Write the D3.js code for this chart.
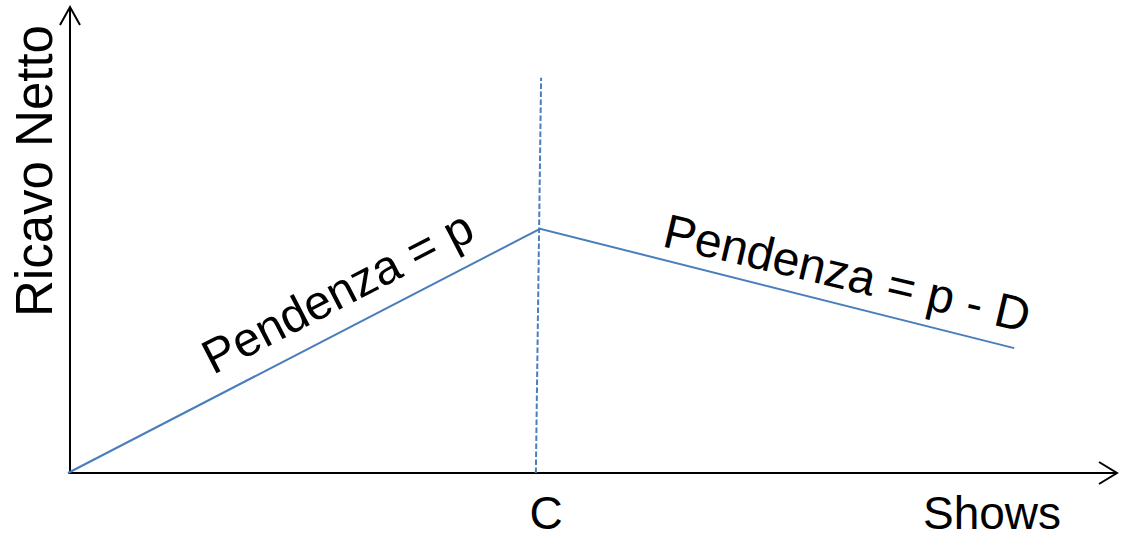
<!DOCTYPE html>
<html><head><meta charset="utf-8">
<script src="https://cdn.jsdelivr.net/npm/d3@7"></script>
<style>body{margin:0;background:#fff}svg{display:block}text{font-family:"Liberation Sans",Arial,sans-serif;fill:#000}</style>
</head><body>
<script>
// data (abstract units)
const profitX = [0, 4.5, 9.02];
const profitY = [0, 5.24, 2.68];
const cutoffX = [4.46, 4.51];
const cutoffY = [0, 8.48];
const axisLabels = {x: "Shows", y: "Ricavo Netto", c: "C"};
const slopeLabels = ["Pendenza = p", "Pendenza = p - D"];

const W = 1124, H = 534;
const x = d3.scaleLinear().domain([0, 10]).range([68, 1117]);
const y = d3.scaleLinear().domain([0, 10]).range([473, 7]);
const svg = d3.select("body").append("svg").attr("width", W).attr("height", H);
const blue = "#4a7ebb";

// axes
svg.append("line").attr("x1", x(0)).attr("y1", y(0)).attr("x2", x(10)).attr("y2", y(0))
  .attr("stroke", "#000").attr("stroke-width", 2);
svg.append("line").attr("x1", x(0)+2).attr("y1", y(0)).attr("x2", x(0)+2).attr("y2", y(10))
  .attr("stroke", "#000").attr("stroke-width", 2);
// arrowheads
svg.append("path").attr("d", `M${x(0)-8},${y(10)+18}L${x(0)+2},${y(10)}L${x(0)+12},${y(10)+18}`)
  .attr("fill", "none").attr("stroke", "#000").attr("stroke-width", 2);
svg.append("path").attr("d", `M${x(10)-18},${y(0)-11}L${x(10)},${y(0)}L${x(10)-18},${y(0)+11}`)
  .attr("fill", "none").attr("stroke", "#000").attr("stroke-width", 2);

// dashed cutoff
svg.append("line").attr("x1", x(cutoffX[0])).attr("y1", y(cutoffY[0]))
  .attr("x2", x(cutoffX[1])).attr("y2", y(cutoffY[1]))
  .attr("stroke", blue).attr("stroke-width", 2).attr("stroke-dasharray", "5.5,2.5");

// profit line
const pts = profitX.map((d, i) => [x(d), y(profitY[i])]);
svg.append("path").attr("d", d3.line()(pts)).attr("fill", "none")
  .attr("stroke", blue).attr("stroke-width", 2);

// labels
const fs = 48;
svg.append("text").attr("transform", `translate(52,${317}) rotate(-90)`)
  .attr("font-size", 51).text(axisLabels.y);
svg.append("text").attr("x", 992).attr("y", 529).attr("text-anchor", "middle")
  .attr("font-size", 46).text(axisLabels.x);
svg.append("text").attr("x", 546).attr("y", 529).attr("text-anchor", "middle")
  .attr("font-size", 46).text(axisLabels.c);

const a1 = Math.atan2(pts[0][1]-pts[1][1], pts[1][0]-pts[0][0]) * 180 / Math.PI;
svg.append("text").attr("transform", `translate(213,375) rotate(${-a1})`)
  .attr("font-size", fs).text(slopeLabels[0]);
const a2 = Math.atan2(pts[2][1]-pts[1][1], pts[2][0]-pts[1][0]) * 180 / Math.PI;
svg.append("text").attr("transform", `translate(661,246) rotate(${a2-0.8})`)
  .attr("font-size", fs).text(slopeLabels[1]);
</script>
</body></html>
